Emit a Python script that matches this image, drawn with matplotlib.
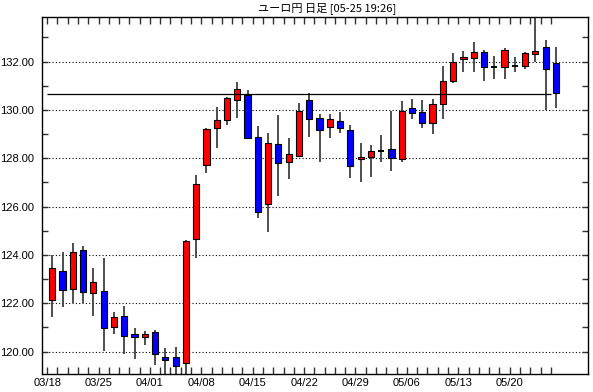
import matplotlib
matplotlib.use("Agg")
import matplotlib.pyplot as plt
import numpy as np
import pandas as pd

# ---- data (EUR/JPY daily, 2013-03-18 .. 2013-05-24) ----
dates = pd.bdate_range("2013-03-18", "2013-05-24")
opens = [122.13, 123.34, 122.57, 124.19, 122.41, 122.49, 121.00, 121.47, 120.72, 120.61,
         120.79, 119.76, 119.76, 119.51, 124.64, 127.70, 129.23, 129.57, 130.41, 130.61,
         128.89, 126.09, 128.57, 127.86, 128.10, 130.41, 129.65, 129.28, 129.54, 129.17,
         127.95, 128.03, 128.31, 128.37, 127.95, 130.06, 129.90, 129.47, 130.23, 131.19,
         132.09, 132.13, 132.38, 131.76, 131.76, 131.83, 131.81, 132.31, 132.61, 131.92]
highs = [123.99, 124.10, 124.48, 124.37, 123.44, 123.86, 121.62, 121.88, 120.96, 120.85,
         120.89, 120.16, 120.20, 124.61, 127.30, 129.25, 130.10, 130.52, 131.17, 130.82,
         129.33, 129.03, 129.79, 128.85, 130.27, 130.68, 129.83, 129.83, 129.92, 129.37,
         128.64, 128.54, 128.96, 129.95, 130.37, 130.45, 130.41, 130.45, 131.81, 132.34,
         132.43, 132.82, 132.48, 132.24, 132.54, 132.17, 132.41, 134.00, 132.89, 132.59]
lows = [121.44, 121.83, 122.02, 122.02, 121.47, 120.03, 120.71, 119.90, 119.69, 120.27,
        119.44, 118.90, 118.90, 118.90, 123.86, 127.40, 128.43, 129.37, 129.68, 128.80,
        125.54, 124.96, 126.45, 127.14, 128.06, 128.89, 127.86, 128.82, 129.03, 127.17,
        127.03, 127.21, 127.86, 127.48, 127.86, 129.61, 129.23, 128.99, 129.61, 131.10,
        131.58, 131.55, 131.21, 131.28, 131.28, 131.58, 131.68, 131.97, 129.99, 130.09]
closes = [123.44, 122.54, 124.13, 122.45, 122.86, 120.96, 121.44, 120.66, 120.61, 120.72,
          119.88, 119.65, 119.41, 124.57, 126.93, 129.21, 129.58, 130.48, 130.85, 128.82,
          125.76, 128.61, 127.79, 128.16, 129.95, 129.61, 129.17, 129.62, 129.23, 127.68,
          128.03, 128.31, 128.31, 128.02, 129.95, 129.86, 129.47, 130.23, 131.19, 131.99,
          132.17, 132.38, 131.76, 131.76, 132.48, 131.83, 132.34, 132.45, 131.68, 130.68]
current_price = 130.65
title = "ユーロ円 日足 [05-25 19:26]"
y_label_values = [120, 122, 124, 126, 128, 130, 132]

plt.rcParams['font.family'] = ['Liberation Sans', 'DejaVu Sans']

fig = plt.figure(figsize=(5.93, 3.92), dpi=100)
ax = fig.add_axes([42 / 593, 18 / 392, 546.3 / 593, 356.7 / 392])

x = np.arange(len(dates))
o = np.array(opens); c = np.array(closes); h = np.array(highs); l = np.array(lows)

# wicks
ax.vlines(x, l, h, color="#404040", linewidth=1.3, zorder=2)

up = c > o
down = c < o
flat = c == o
ax.bar(x[up], (c - o)[up], bottom=o[up], width=0.6, color="#FF0000",
       edgecolor="black", linewidth=0.8, zorder=3)
ax.bar(x[down], (o - c)[down], bottom=c[down], width=0.6, color="#0000FF",
       edgecolor="black", linewidth=0.8, zorder=3)
ax.hlines(o[flat], x[flat] - 0.3, x[flat] + 0.3, color="black", linewidth=1.4, zorder=3)

# current price line
ax.hlines(current_price, -0.5, len(dates) - 1.5, color="black", linewidth=0.9, zorder=4)

# grid
for v in y_label_values:
    ax.axhline(v, color="black", linestyle=(0, (1, 2)), linewidth=0.8, zorder=1)

ax.set_xlim(-1.0, 52.15)
ax.set_ylim(119.07, 133.83)

# x ticks
mondays = [i for i, d in enumerate(dates) if d.weekday() == 0]
ax.set_xticks([i - 0.5 for i in mondays])
ax.set_xticklabels([dates[i].strftime("%m/%d") for i in mondays])
ax.set_xticks([i - 0.5 for i in range(len(dates))], minor=True)
ax.tick_params(axis="x", which="both", direction="in", top=True, bottom=True,
               length=5, width=1, color="#303030")
ax.tick_params(axis="x", which="major", labelsize=8, pad=3)

# y ticks
ax.set_yticks(y_label_values)
ax.set_yticklabels([f"{v:.2f}" for v in y_label_values])
ax.set_yticks(np.arange(120, 134, 1), minor=True)
ax.tick_params(axis="y", which="both", direction="in", left=True, right=True,
               length=4, width=1, color="#303030")
ax.tick_params(axis="y", which="major", labelsize=8, pad=6)

for s in ax.spines.values():
    s.set_linewidth(1.0)
    s.set_color("black")

fig.text(327 / 593, 1 - 8 / 392, title, ha="center", va="center", fontsize=8,
         family=['Noto Sans CJK JP', 'DejaVu Sans'])

fig.savefig("out.png", dpi=100)
